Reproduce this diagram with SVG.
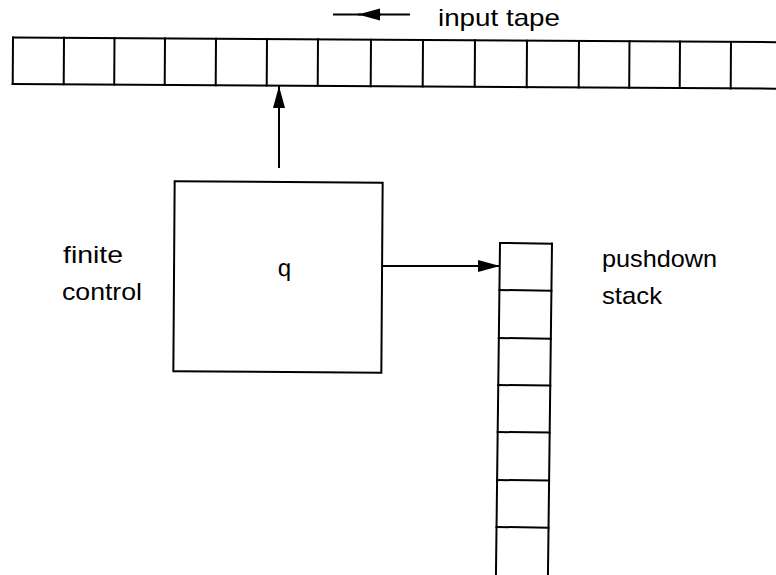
<svg xmlns="http://www.w3.org/2000/svg" width="776" height="575" viewBox="0 0 776 575">
  <style>
    .ln { stroke: #000; stroke-width: 2; fill: none; stroke-linecap: square; }
    .box { stroke: #000; stroke-width: 2; fill: #fff; }
    .lbl { font-family: "Liberation Sans", Arial, sans-serif; font-size: 24px; fill: #000; }
  </style>
  <defs>
    <marker id="ah" markerUnits="userSpaceOnUse" markerWidth="24" markerHeight="14" refX="22" refY="6" orient="auto">
      <path d="M0,0 L22,6 L0,12 Z" fill="#000"/>
    </marker>
  </defs>
  <rect width="776" height="575" fill="#fff"/>

  <g id="input-tape" transform="rotate(0.35 13 37.5)">
    <path class="ln" d="M13,37.5 H790 M13,84 H790"/>
    <path class="ln" d="M13,37.5 V84 M64,37.5 V84 M114.5,37.5 V84 M165,37.5 V84 M216,37.5 V84 M267,37.5 V84 M318,37.5 V84 M371,37.5 V84 M423,37.5 V84 M475,37.5 V84 M527,37.5 V84 M579,37.5 V84 M629.5,37.5 V84 M680,37.5 V84 M731,37.5 V84"/>
  </g>

  <g id="finite-control" transform="rotate(0.4 278 277)">
    <rect class="box" x="174" y="182" width="208" height="190"/>
    <text class="lbl" x="284.5" y="276" text-anchor="middle">q</text>
  </g>

  <g id="pushdown-stack" transform="rotate(0.7 500 243)">
    <path class="ln" d="M500,243 H552 M500,290 H552 M500,338 H552 M500,385 H552 M500,432 H552 M500,480 H552 M500,527 H552"/>
    <path class="ln" d="M500,243 V590 M552,243 V590"/>
  </g>

  <g id="labels">
    <text class="lbl" x="438" y="26" textLength="122" lengthAdjust="spacingAndGlyphs">input tape</text>
    <text class="lbl" x="63" y="263" textLength="60" lengthAdjust="spacingAndGlyphs">finite</text>
    <text class="lbl" x="62" y="300" textLength="80" lengthAdjust="spacingAndGlyphs">control</text>
    <text class="lbl" x="602" y="267" textLength="115" lengthAdjust="spacingAndGlyphs">pushdown</text>
    <text class="lbl" x="602" y="304" textLength="60" lengthAdjust="spacingAndGlyphs">stack</text>
  </g>

  <g id="connectors">
    <line class="ln" x1="409" y1="14.5" x2="380" y2="14.5"/>
    <line class="ln" x1="381" y1="14.5" x2="358" y2="14.5" marker-end="url(#ah)" style="stroke-linecap:butt"/>
    <line class="ln" x1="360" y1="14.5" x2="334" y2="14.5"/>
    <line class="ln" x1="279" y1="168" x2="279" y2="86" marker-end="url(#ah)" style="stroke-linecap:butt"/>
    <line class="ln" x1="382" y1="266" x2="500" y2="266" marker-end="url(#ah)" style="stroke-linecap:butt"/>
  </g>
</svg>
